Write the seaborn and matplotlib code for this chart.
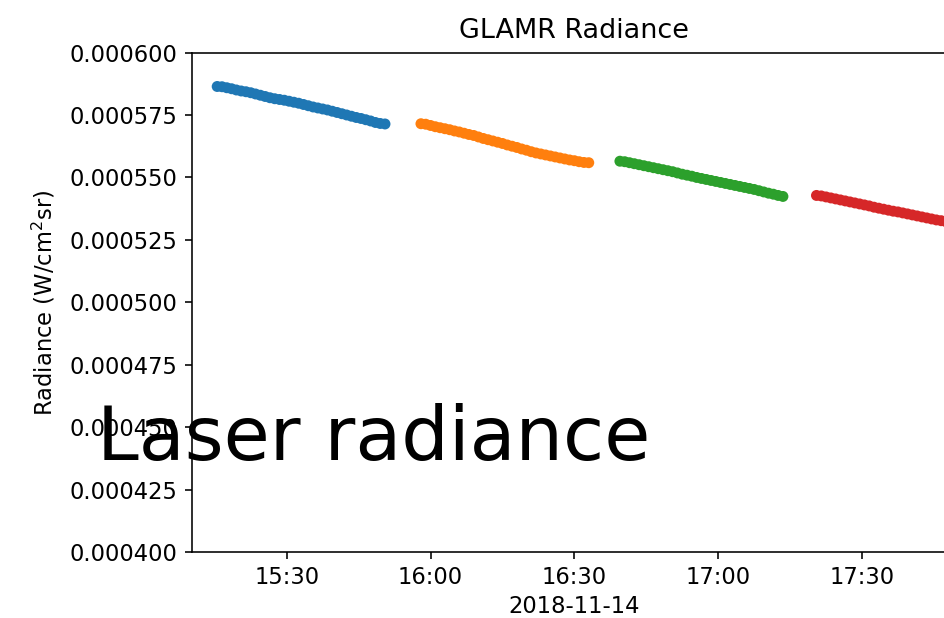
import numpy as np
import pandas as pd
import matplotlib
matplotlib.use("Agg")
import matplotlib.pyplot as plt
import matplotlib.dates as mdates
import seaborn as sns

# ---- data (radiance in 1e-6 W/cm^2/sr, sampled each minute) ----
seg_names = ["run 1", "run 2", "run 3", "run 4"]
seg_starts = ["2018-11-14 15:15:30", "2018-11-14 15:58:00",
              "2018-11-14 16:39:30", "2018-11-14 17:20:30"]
blue_vals = [586.4, 586.3, 585.9, 585.5, 585.0, 584.6, 584.3, 583.9, 583.4, 582.9,
             582.4, 581.9, 581.5, 581.2, 580.9, 580.5, 580.1, 579.7, 579.2, 578.7,
             578.2, 577.8, 577.4, 577.0, 576.5, 576.0, 575.5, 575.0, 574.5, 574.0,
             573.6, 573.1, 572.6, 572.0, 571.6, 571.4]
orange_vals = [571.5, 571.3, 570.8, 570.3, 569.9, 569.5, 569.1, 568.6, 568.2, 567.7,
               567.2, 566.8, 566.2, 565.6, 565.1, 564.6, 564.1, 563.6, 563.0, 562.5,
               562.0, 561.4, 560.9, 560.3, 559.8, 559.4, 559.0, 558.6, 558.2, 557.8,
               557.4, 557.0, 556.7, 556.3, 556.0, 555.9]
green_vals = [556.5, 556.3, 555.9, 555.5, 555.1, 554.7, 554.3, 553.9, 553.5, 553.1,
              552.7, 552.3, 551.8, 551.3, 550.9, 550.5, 550.0, 549.6, 549.2, 548.8,
              548.4, 548.0, 547.6, 547.2, 546.8, 546.4, 546.0, 545.6, 545.2, 544.7,
              544.2, 543.7, 543.3, 542.8, 542.4]
red_vals = [542.8, 542.6, 542.2, 541.8, 541.4, 541.0, 540.6, 540.2, 539.8, 539.4,
            539.0, 538.6, 538.1, 537.7, 537.3, 536.9, 536.5, 536.2, 535.8, 535.4,
            535.0, 534.6, 534.2, 533.8, 533.4, 533.0, 532.7, 532.3, 531.9, 531.5]
seg_vals = [blue_vals, orange_vals, green_vals, red_vals]

y_ticks = [0.000400, 0.000425, 0.000450, 0.000475, 0.000500,
           0.000525, 0.000550, 0.000575, 0.000600]
title = "GLAMR Radiance"
xlabel = "2018-11-14"
ylabel = "Radiance (W/cm$^2$sr)"
overlay = "Laser radiance"

frames = []
for name, start, vals in zip(seg_names, seg_starts, seg_vals):
    t = pd.date_range(start=start, periods=len(vals), freq="1min")
    frames.append(pd.DataFrame({"time": t, "radiance": np.array(vals) * 1e-6, "run": name}))
df = pd.concat(frames, ignore_index=True)

W, H, DPI = 944, 618, 144
fig = plt.figure(figsize=(W / DPI, H / DPI), dpi=DPI)
left, right, top, bottom = 191.7, 956.0, 52.5, 552.3
ax = fig.add_axes([left / W, 1 - bottom / H, (right - left) / W, (bottom - top) / H])

sns.scatterplot(data=df, x="time", y="radiance", hue="run",
                palette=sns.color_palette("tab10", 4), marker="o", s=30,
                linewidth=0, legend=False, ax=ax)

ax.set_xlim(pd.Timestamp("2018-11-14 15:10:11"), pd.Timestamp("2018-11-14 17:49:36"))
ax.set_ylim(y_ticks[0], y_ticks[-1])
ax.set_yticks(y_ticks)
ax.yaxis.set_major_formatter(matplotlib.ticker.FormatStrFormatter("%.6f"))
ax.xaxis.set_major_locator(mdates.MinuteLocator(byminute=[0, 30]))
ax.xaxis.set_major_formatter(mdates.DateFormatter("%H:%M"))
ax.set_title(title, fontsize=13.5, pad=7)
ax.set_xlabel(xlabel, fontsize=11.3, labelpad=3)
ax.set_ylabel(ylabel, fontsize=11.3, labelpad=6)
ax.tick_params(labelsize=11.3, length=7 * 72 / DPI, pad=3.5)

fig.text(97 / W, 1 - 460 / H, overlay, family=["DejaVu Sans"],
         fontsize=37.5, va="baseline", ha="left", color="black")

fig.savefig("out.png", dpi=DPI)
